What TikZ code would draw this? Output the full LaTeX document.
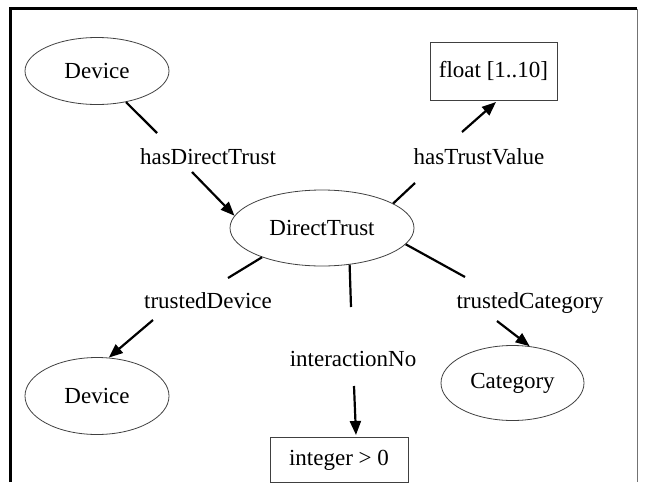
\documentclass[tikz,border=0pt]{standalone}
\usepackage{fontspec}
\setmainfont{Liberation Serif}
\usetikzlibrary{shapes.geometric,arrows.meta}
\begin{document}
\begin{tikzpicture}[x=1pt,y=-1pt,
  ell/.style={ellipse,draw=black!75,line width=0.8pt,inner sep=0pt},
  box/.style={rectangle,draw=black!75,line width=0.8pt,inner sep=0pt},
  lbl/.style={anchor=base,inner sep=0pt},
  edgeline/.style={line width=2.2pt},
  arr/.style={edgeline,-{Triangle[length=14pt,width=11pt]}},
  every node/.style={font=\fontsize{23}{27}\selectfont}]
\useasboundingbox (0,0) rectangle (647,482);
\draw[line width=3pt] (10.5,482) -- (10.5,8.5) -- (637,8.5);
\draw[line width=1pt, black!55] (637.5,8.5) -- (637.5,482);
% nodes
\node[ell,minimum width=144pt,minimum height=67pt] (d1) at (97,71) {Device};
\node[box,minimum width=127pt,minimum height=58pt] (fl) at (493.5,71) {float [1..10]};
\node[ell,minimum width=184pt,minimum height=76pt] (dt) at (322,228) {DirectTrust};
\node[ell,minimum width=144pt,minimum height=77pt] (d2) at (97,396) {Device};
\node[ell,minimum width=143pt,minimum height=75pt] (cat) at (512.5,383) {Category};
\node[box,minimum width=138pt,minimum height=45pt] (int) at (339,460) {integer > 0};
% labels
\node[lbl] (l1) at (208,164) {hasDirectTrust};
\node[lbl] (l2) at (479,164) {hasTrustValue};
\node[lbl] (l3) at (208,308) {trustedDevice};
\node[lbl] (l4) at (353,366) {interactionNo};
\node[lbl] (l5) at (530,308) {trustedCategory};
% edge points
\coordinate (e1a) at (157,133);
\coordinate (e1b) at (192,172);
\coordinate (e2a) at (415,183);
\coordinate (e2b) at (462,132);
\coordinate (e2t) at (496,102);
\coordinate (e3a) at (228,278);
\coordinate (e3b) at (153,320);
\coordinate (e4a) at (351,307);
\coordinate (e4b) at (354,386);
\coordinate (e4t) at (356,435);
\coordinate (e5a) at (465,277);
\coordinate (e5b) at (497,321);
% edges
\draw[edgeline] (d1.-47) -- (e1a);
\draw[arr] (e1b) -- (dt.172);
\draw[edgeline] (dt.19) -- (e2a);
\draw[arr] (e2b) -- (e2t);
\draw[edgeline] (dt.206) -- (e3a);
\draw[arr] (e3b) -- (d2.73);
\draw[edgeline] (dt.-53) -- (e4a);
\draw[arr] (e4b) -- (e4t);
\draw[edgeline] (dt.-11) -- (e5a);
\draw[arr] (e5b) -- (cat.65);
\end{tikzpicture}
\end{document}
